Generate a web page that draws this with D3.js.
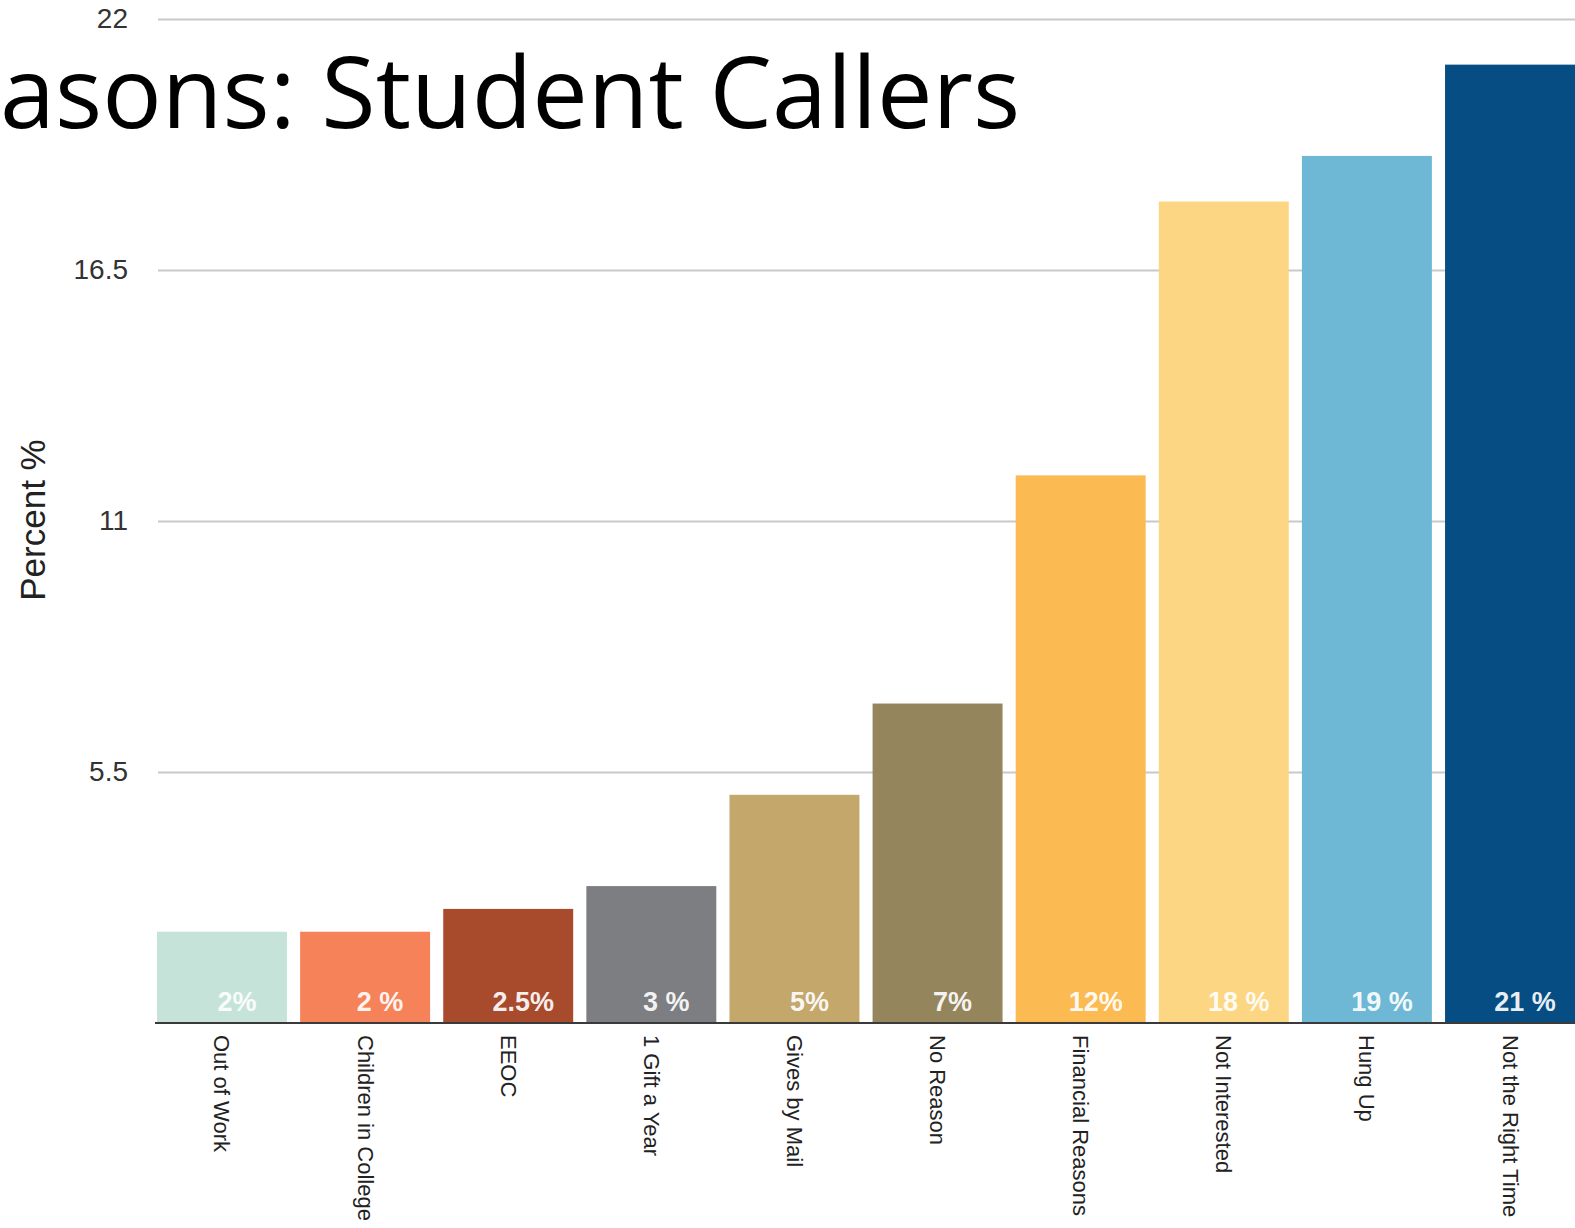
<!DOCTYPE html>
<html>
<head>
<meta charset="utf-8">
<script src="https://cdn.jsdelivr.net/npm/d3@7"></script>
<style>
  html, body { margin: 0; padding: 0; background: #fff; overflow: hidden; }
  svg { display: block; }
</style>
</head>
<body>
<svg id="chart" width="1575" height="1228"></svg>
<script>
// Refusal reasons reported by student callers (percent of calls)
const categories = ["Out of Work", "Children in College", "EEOC", "1 Gift a Year", "Gives by Mail",
  "No Reason", "Financial Reasons", "Not Interested", "Hung Up", "Not the Right Time"];
const values = [2, 2, 2.5, 3, 5, 7, 12, 18, 19, 21];
const valueLabels = ["2%", "2 %", "2.5%", "3 %", "5%", "7%", "12%", "18 %", "19 %", "21 %"];
const barColors = ["#c5e3d9", "#f6825a", "#a84b2d", "#7d7e81", "#c3a76b",
  "#95855d", "#fbba52", "#fdd684", "#6fb8d5", "#054d82"];
const yTicks = [5.5, 11, 16.5, 22];
const yTickLabels = ["5.5", "11", "16.5", "22"];
const titleText = "asons: Student Callers";
const yAxisTitle = "Percent %";

const svg = d3.select("#chart");
const sans = "'Liberation Sans', Arial, Helvetica, sans-serif";

const x = d3.scaleBand()
  .domain(categories)
  .range([157, 1575])
  .paddingInner(0.092)
  .paddingOuter(0);

const y = d3.scaleLinear()
  .domain([0, 22])
  .range([1023, 19]);

// horizontal gridlines
const grid = svg.append("g")
  .attr("transform", "translate(158,0)")
  .call(d3.axisLeft(y).tickValues(yTicks).tickSize(-(1575 - 158)).tickFormat(""));
grid.select(".domain").remove();
grid.selectAll(".tick line").attr("stroke", "#c9c9c9").attr("stroke-width", 2);

// tick labels
const yAxis = svg.append("g")
  .attr("transform", "translate(128,0)")
  .call(d3.axisLeft(y).tickValues(yTicks).tickSize(0).tickPadding(0)
    .tickFormat((d, i) => yTickLabels[i]));
yAxis.select(".domain").remove();
yAxis.selectAll(".tick text")
  .attr("fill", "#333")
  .style("font-family", sans)
  .style("font-size", "28px");

// y axis title
svg.append("text")
  .attr("transform", "translate(45,520) rotate(-90)")
  .attr("text-anchor", "middle")
  .attr("fill", "#222")
  .style("font-family", sans)
  .style("font-size", "35px")
  .text(yAxisTitle);

// bars
svg.append("g").selectAll("rect")
  .data(categories)
  .join("rect")
  .attr("x", d => x(d))
  .attr("y", (d, i) => y(values[i]))
  .attr("width", x.bandwidth())
  .attr("height", (d, i) => y(0) - y(values[i]))
  .attr("fill", (d, i) => barColors[i]);

// value labels inside bars
svg.append("g").selectAll("text")
  .data(categories)
  .join("text")
  .attr("x", d => x(d) + x.bandwidth() / 2 + 15)
  .attr("y", 1011)
  .attr("text-anchor", "middle")
  .attr("fill", "#fff")
  .attr("fill-opacity", 0.92)
  .style("font-family", sans)
  .style("font-weight", "bold")
  .style("font-size", "27px")
  .text((d, i) => valueLabels[i]);

// baseline
svg.append("g")
  .attr("transform", `translate(0,${y(0)})`)
  .call(d3.axisBottom(x).tickSize(0).tickFormat(""))
  .call(g => g.select(".domain").attr("stroke", "#3a3a3a").attr("stroke-width", 2)
    .attr("d", "M155,0H1575"));

// category labels, rotated to read downward
svg.append("g").selectAll("text")
  .data(categories)
  .join("text")
  .attr("transform", d => `translate(${x(d) + x.bandwidth() / 2},1035) rotate(90)`)
  .attr("text-anchor", "start")
  .attr("dominant-baseline", "central")
  .attr("fill", "#222")
  .style("font-family", sans)
  .style("font-size", "22px")
  .text(d => d);

// title
svg.append("text")
  .attr("x", 0)
  .attr("y", 128)
  .attr("fill", "#000")
  .style("font-family", "'Open Sans', Lato, sans-serif")
  .style("font-size", "99px")
  .text(titleText);
</script>
</body>
</html>
